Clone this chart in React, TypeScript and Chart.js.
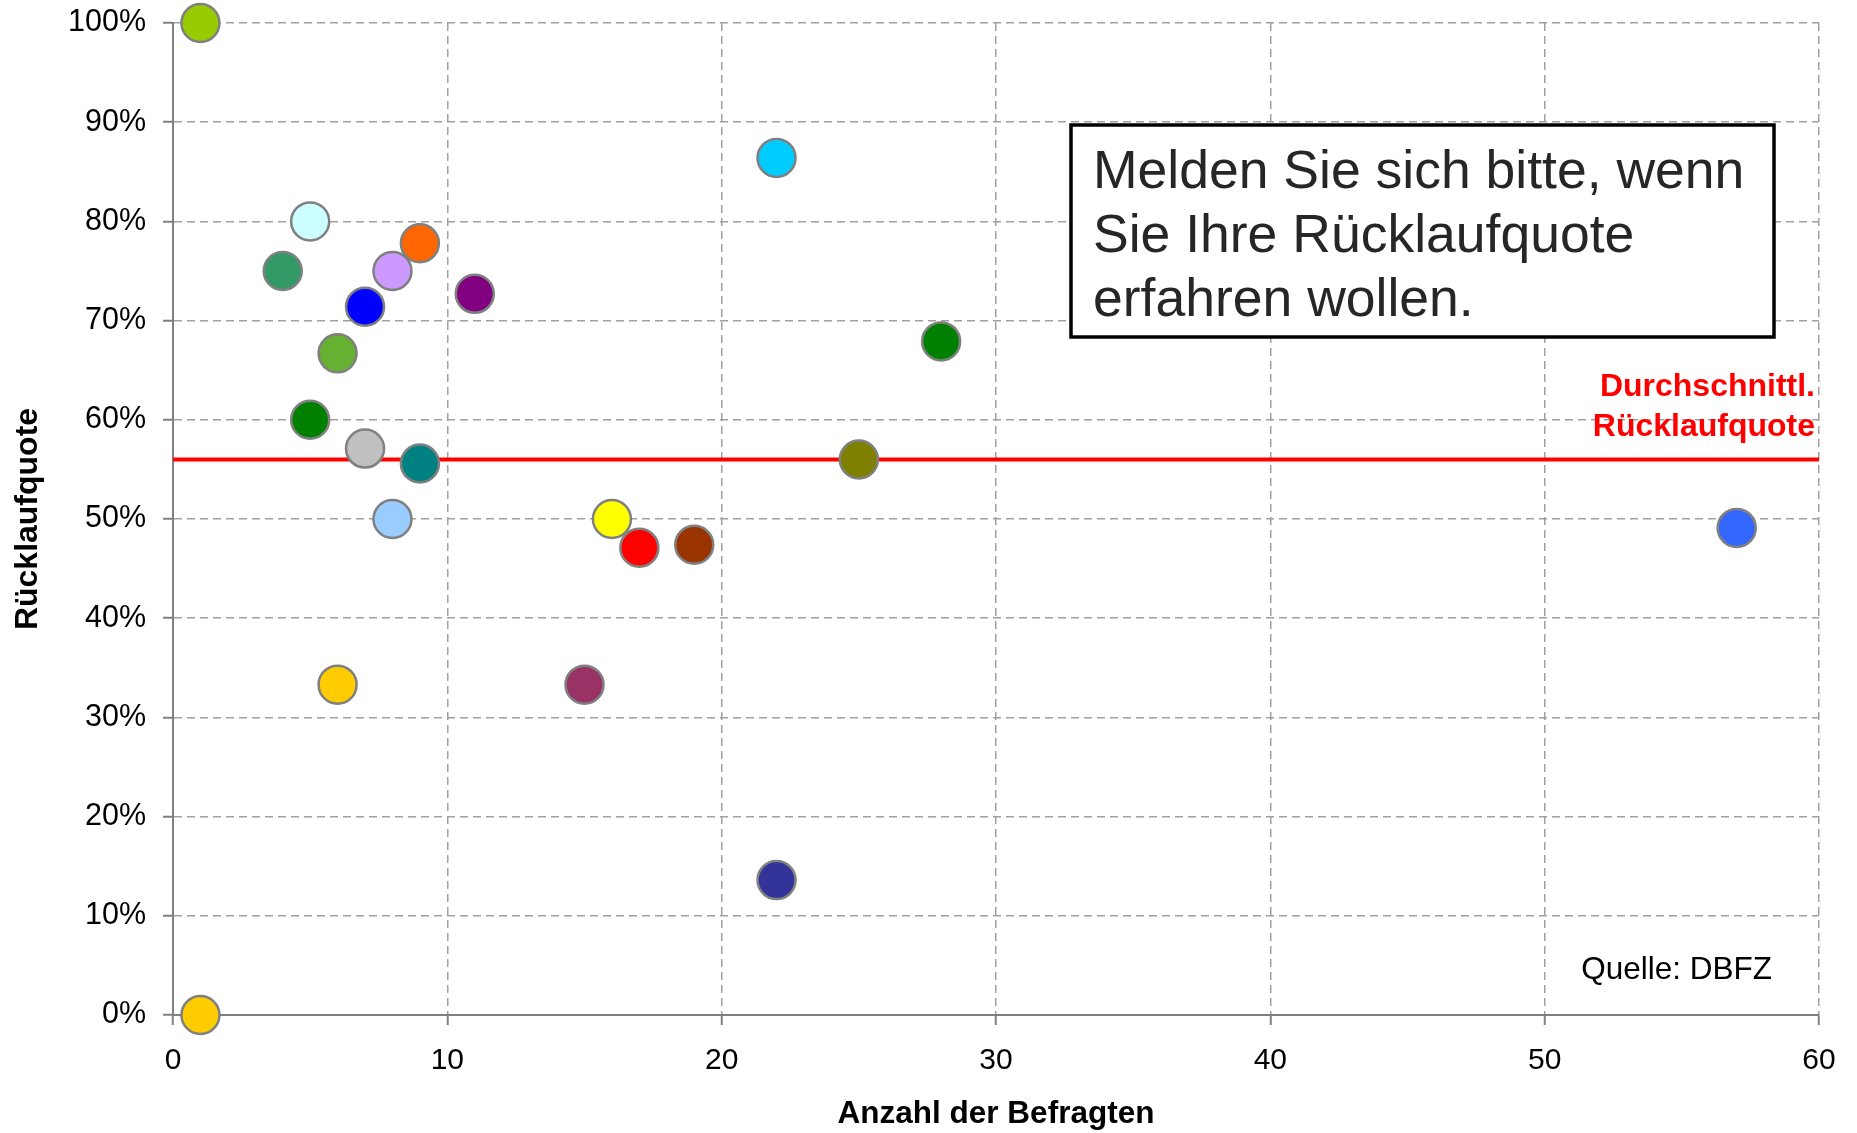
import React, { useEffect, useRef } from "react";
import { Chart, registerables } from "chart.js";

Chart.register(...registerables);

// Data
const respondents = [1, 1, 4, 5, 5, 6, 6, 7, 7, 8, 8, 9, 9, 11, 15, 16, 17, 19, 22, 22, 25, 28, 57];
const returnRates = [1.0, 0.0, 0.75, 0.8, 0.6, 0.667, 0.333, 0.714, 0.571, 0.75, 0.5, 0.778, 0.556, 0.727, 0.333, 0.5, 0.471, 0.474, 0.864, 0.136, 0.56, 0.679, 0.491];
const pointColors = [
  "#99CC00", "#FFCC00", "#339966", "#CCFFFF", "#008000", "#66B032", "#FFCC00",
  "#0000FF", "#C0C0C0", "#CC99FF", "#99CCFF", "#FF6600", "#008080", "#800080",
  "#993366", "#FFFF00", "#FF0000", "#993300", "#00CCFF", "#333399", "#808000",
  "#008000", "#3366FF",
];
const averageRate = 0.56;
const xTicks = [0, 10, 20, 30, 40, 50, 60];
const yTickLabels = ["0%", "10%", "20%", "30%", "40%", "50%", "60%", "70%", "80%", "90%", "100%"];

const xTitle = "Anzahl der Befragten";
const yTitle = "Rücklaufquote";
const boxLines = ["Melden Sie sich bitte, wenn", "Sie Ihre Rücklaufquote", "erfahren wollen."];
const avgLabelLines = ["Durchschnittl.", "Rücklaufquote"];
const sourceText = "Quelle: DBFZ";

const FONT = "'Liberation Sans', Arial, Helvetica, sans-serif";

const annotationPlugin = {
  id: "annotations",
  afterDatasetsDraw(chart: any) {
    const ctx: CanvasRenderingContext2D = chart.ctx;
    ctx.save();
    // message box
    ctx.fillStyle = "#FFFFFF";
    ctx.fillRect(1071, 125, 703, 212);
    ctx.lineWidth = 3.5;
    ctx.strokeStyle = "#000000";
    ctx.strokeRect(1071, 125, 703, 212);
    ctx.fillStyle = "#262626";
    ctx.font = `53.5px ${FONT}`;
    ctx.textAlign = "left";
    ctx.textBaseline = "alphabetic";
    boxLines.forEach((line, i) => {
      ctx.fillText(line, 1093, 188 + i * 64);
    });
    // average label
    ctx.fillStyle = "#FF0000";
    ctx.font = `bold 32px ${FONT}`;
    ctx.textAlign = "right";
    avgLabelLines.forEach((line, i) => {
      ctx.fillText(line, 1815, 396 + i * 40);
    });
    // source
    ctx.fillStyle = "#000000";
    ctx.font = `31.5px ${FONT}`;
    ctx.fillText(sourceText, 1772, 979);
    ctx.restore();
  },
};

export default function App() {
  const canvasRef = useRef<HTMLCanvasElement | null>(null);

  useEffect(() => {
    document.body.style.margin = "0";
    const canvas = canvasRef.current;
    if (!canvas) return;
    const chart = new Chart(canvas, {
      type: "scatter",
      data: {
        datasets: [
          {
            type: "scatter",
            data: respondents.map((x, i) => ({ x, y: returnRates[i] })),
            backgroundColor: pointColors,
            borderColor: "#808080",
            borderWidth: 2.5,
            pointRadius: 19,
            pointHoverRadius: 19,
            clip: false as any,
            order: 1,
          } as any,
          {
            type: "line",
            data: [
              { x: xTicks[0], y: averageRate },
              { x: xTicks[xTicks.length - 1], y: averageRate },
            ],
            borderColor: "#FF0000",
            borderWidth: 4,
            pointRadius: 0,
            fill: false,
            order: 2,
          } as any,
        ],
      },
      options: {
        animation: false,
        responsive: true,
        maintainAspectRatio: false,
        devicePixelRatio: 1,
        layout: { padding: { top: 23, right: 38, left: 0, bottom: 0 } },
        plugins: {
          legend: { display: false },
          tooltip: { enabled: false },
        },
        events: [],
        scales: {
          x: {
            type: "linear",
            min: xTicks[0],
            max: xTicks[xTicks.length - 1],
            afterFit: (scale: any) => {
              scale.height = 118;
              scale.paddingLeft = 0;
              scale.paddingRight = 0;
            },
            afterBuildTicks: (scale: any) => {
              scale.ticks = xTicks.map((v) => ({ value: v }));
            },
            ticks: {
              stepSize: 10,
              color: "#000000",
              font: { size: 30, family: FONT },
              padding: 18,
              maxRotation: 0,
            },
            grid: {
              color: "#A0A0A0",
              lineWidth: 1.5,
              tickLength: 10,
              tickColor: "#808080",
              tickWidth: 2,
            },
            border: { display: true, color: "#808080", width: 2, dash: [8, 5] },
            title: {
              display: true,
              text: xTitle,
              color: "#000000",
              font: { size: 31.5, weight: "bold", family: FONT },
              padding: { top: 0, bottom: 0 },
            },
          },
          y: {
            type: "linear",
            min: 0,
            max: 1,
            afterFit: (scale: any) => {
              scale.width = 173;
              scale.paddingTop = 0;
              scale.paddingBottom = 0;
            },
            ticks: {
              stepSize: 0.1,
              color: "#000000",
              font: { size: 30.5, family: FONT },
              padding: 17,
              callback: (value: any) => yTickLabels[Math.round(Number(value) * 10)],
            },
            grid: {
              color: "#A0A0A0",
              lineWidth: 1.5,
              tickLength: 10,
              tickColor: "#808080",
              tickWidth: 2,
            },
            border: { display: true, color: "#808080", width: 2, dash: [8, 5] },
            title: {
              display: true,
              text: yTitle,
              color: "#000000",
              font: { size: 32, weight: "bold", family: FONT },
              padding: { top: 9, bottom: 0 },
            },
          },
        },
      } as any,
      plugins: [annotationPlugin],
    });
    return () => chart.destroy();
  }, []);

  return (
    <div style={{ position: "fixed", left: 0, top: 0, width: 1857, height: 1133, background: "#FFFFFF" }}>
      <canvas ref={canvasRef} />
    </div>
  );
}
